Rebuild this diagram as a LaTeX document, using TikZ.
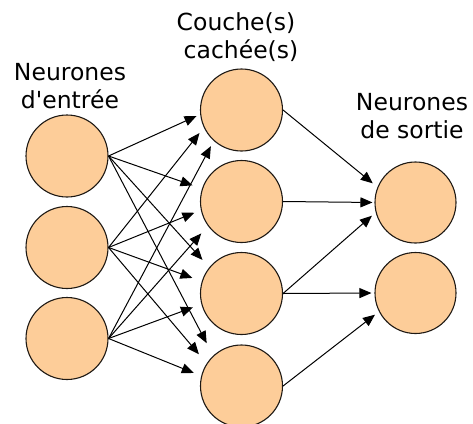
\documentclass[tikz,border=0pt]{standalone}
\usepackage{fontspec}
\setmainfont{DejaVu Sans}
\usetikzlibrary{arrows.meta}
\definecolor{peach}{RGB}{253,205,153}
\definecolor{rim}{RGB}{30,25,20}
\begin{document}
\begin{tikzpicture}[x=1pt,y=-1pt,
  neuron/.style={circle,draw=rim,line width=1.1pt,fill=peach,minimum size=82pt,inner sep=0pt},
  lab/.style={anchor=base,inner sep=0pt,font=\fontsize{23.5}{28}\selectfont},
  arr/.style={line width=1pt,-{Triangle[length=12pt,width=10pt]}}]
\useasboundingbox (0,0) rectangle (473,423);
% labels
\node[lab] (l1a) at (70,80) {Neurones};
\node[lab] (l1b) at (70,108) {d\textquotesingle entrée};
\node[lab] (l2a) at (236,30) {Couche(s)};
\node[lab] (l2b) at (241,58) {cachée(s)};
\node[lab] (l3a) at (412,110) {Neurones};
\node[lab] (l3b) at (412,138) {de sortie};
% neurons
\node[neuron] (i1) at (67,156) {};
\node[neuron] (i2) at (67,247.5) {};
\node[neuron] (i3) at (67,338.5) {};
\node[neuron] (h1) at (241.5,110) {};
\node[neuron] (h2) at (241.5,201.5) {};
\node[neuron] (h3) at (241.5,293.5) {};
\node[neuron] (h4) at (241.5,386) {};
\node[neuron,minimum size=81pt] (o1) at (415.5,202.5) {};
\node[neuron,minimum size=81pt] (o2) at (415.5,293) {};
% input -> hidden
\draw[arr,shorten >=4pt] (i1.east) -- (h1.186);
\draw[arr,shorten >=7pt] (i2.east) -- (h1.205);
\draw[arr,shorten >=6pt] (i3.east) -- (h1.228);
\draw[arr,shorten >=10pt] (i1.east) -- (h2.162);
\draw[arr,shorten >=7pt] (i2.east) -- (h2.192);
\draw[arr,shorten >=10pt] (i3.east) -- (h2.216);
\draw[arr,shorten >=10pt] (i1.east) -- (h3.141);
\draw[arr,shorten >=10pt] (i2.east) -- (h3.163);
\draw[arr,shorten >=9pt] (i3.east) -- (h3.195);
\draw[arr,shorten >=14pt] (i1.east) -- (h4.133);
\draw[arr,shorten >=12pt] (i2.east) -- (h4.147);
\draw[arr,shorten >=8pt] (i3.east) -- (h4.166);
% hidden -> output
\draw[arr,shorten >=6pt] (h1.east) -- (o1.158);
\draw[arr,shorten >=2pt] (h2.east) -- (o1.west);
\draw[arr,shorten >=5pt] (h3.east) -- (o1.194);
\draw[arr,shorten >=3pt] (h3.east) -- (o2.west);
\draw[arr,shorten >=5pt] (h4.east) -- (o2.207);
\end{tikzpicture}
\end{document}
